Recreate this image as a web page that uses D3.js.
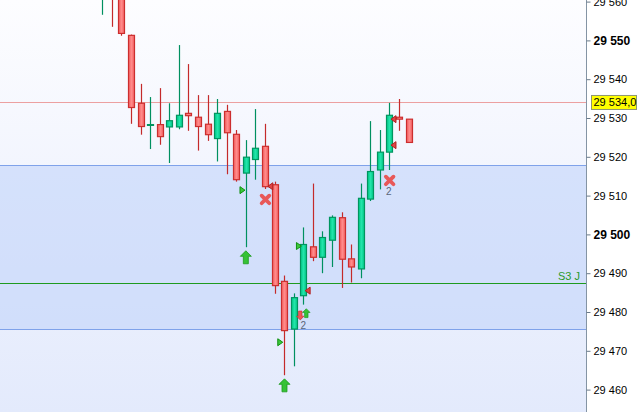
<!DOCTYPE html>
<html><head><meta charset="utf-8">
<script src="https://cdn.jsdelivr.net/npm/d3@7/dist/d3.min.js"></script>
<style>html,body{margin:0;padding:0;background:#fff;overflow:hidden}</style>
</head><body>
<svg id="c" width="637" height="412"></svg>
<script>
// OHLC candles (index order, left to right)
const opens  = [29565,29575,29566,29551.3,29533.8,29528.3,29528.3,29527.7,29527.7,29531.2,29530.2,29528.4,29524.7,29531.7,29525.8,29515.8,29519.3,29522.7,29512.8,29487.9,29475.6,29484.2,29496.8,29494.1,29498.5,29504.3,29493.7,29491.1,29509.1,29516.6,29521.2,29530.2,29529.7];
const highs  = [29578,29578,29568,29551.5,29538.8,29535.4,29537.7,29533.8,29548.8,29543.9,29535.9,29535.9,29534.9,29533.4,29526.9,29524.3,29532.3,29528.5,29513.6,29489.4,29484.8,29501.8,29513.1,29500.8,29504.9,29505.7,29497.4,29513.1,29529.2,29526.9,29533.9,29534.9,29529.7];
const lows   = [29556.6,29553.5,29551.2,29528.5,29525.7,29522.0,29523.1,29518.4,29527.1,29526.7,29521.6,29524.1,29518.8,29515.5,29513.6,29496.7,29514.1,29511.7,29484.7,29463.7,29466.0,29481.9,29493.1,29490.0,29491.6,29486.2,29487.6,29488.7,29508.6,29511.6,29516.6,29526.7,29523.7];
const closes = [29575,29566,29551.8,29532.7,29527.8,29528.3,29525.2,29529.3,29530.7,29530.6,29527.8,29525.7,29531.2,29526.2,29514.1,29519.9,29522.2,29512.3,29486.8,29475.2,29483.7,29497.4,29494.1,29499.2,29504.4,29493.6,29491.6,29509.3,29516.2,29521.2,29530.7,29529.7,29523.7];
const upFlags = [1,0,0,0,0,1,0,1,1,0,0,0,1,0,0,1,1,0,0,0,1,1,0,1,1,0,0,1,1,1,1,0,0];

// Tick labels
const tickValues = [29460,29470,29480,29490,29500,29510,29520,29530,29540,29550,29560];
const majorTicks = [29500,29550];

// Horizontal levels
const lastPrice = 29534.0;
const lastPriceLabel = "29 534,0";
const bandTop = 29517.8, bandBottom = 29475.5;
const s3Level = 29487.6, s3Label = "S3 J";

// Signal markers: [type, candle index, price]
const markerTypes  = ["bigUp","triR","cross","triL","triR","triL","smallDown","smallUp","text2","triR","bigUp","cross","text2","triL","triL"];
const markerIdx    = [15,14.65,17.05,17.56,20.55,21.46,20.69,21.32,21.0,18.6,19.04,30.03,29.94,30.43,30.43];
const markerPrice  = [29494.1,29511.4,29509.0,29512.4,29497.0,29485.5,29479.1,29479.7,29476.5,29472.2,29461.1,29513.9,29511.0,29529.7,29523.0];

const W = 637, H = 412, axisX = 586;
const svg = d3.select("#c");
const y = d3.scaleLinear().domain([29460, 29560]).range([389.6, 1.6]);
const x = d3.scaleLinear().domain([0, 32]).range([102.3, 408.5]);

const defs = svg.append("defs");
const bg = defs.append("linearGradient").attr("id","bg").attr("x1",0).attr("y1",0).attr("x2",0).attr("y2",1);
bg.append("stop").attr("offset","0%").attr("stop-color","#fdfdff");
bg.append("stop").attr("offset","100%").attr("stop-color","#e3eafc");
const rg = defs.append("linearGradient").attr("id","rg").attr("x1",0).attr("y1",0).attr("x2",1).attr("y2",0);
rg.append("stop").attr("offset","0%").attr("stop-color","#f46060");
rg.append("stop").attr("offset","50%").attr("stop-color","#ff8a8a");
rg.append("stop").attr("offset","100%").attr("stop-color","#f46060");
const gg = defs.append("linearGradient").attr("id","gg").attr("x1",0).attr("y1",0).attr("x2",1).attr("y2",0);
gg.append("stop").attr("offset","0%").attr("stop-color","#00c888");
gg.append("stop").attr("offset","50%").attr("stop-color","#22e4aa");
gg.append("stop").attr("offset","100%").attr("stop-color","#00c888");

svg.append("rect").attr("x",0).attr("y",0).attr("width",axisX).attr("height",H).attr("fill","url(#bg)");
svg.append("rect").attr("x",0).attr("y",y(bandTop)).attr("width",axisX).attr("height",y(bandBottom)-y(bandTop)).attr("fill","#c2d4fa").attr("opacity",0.6);

const hline = (v,col) => svg.append("line").attr("x1",0).attr("x2",axisX).attr("y1",Math.round(y(v))+0.5).attr("y2",Math.round(y(v))+0.5).attr("stroke",col).attr("stroke-width",1);
hline(bandTop,"#7fa2ea");
hline(bandBottom,"#7fa2ea");
hline(s3Level,"#1e9a1e");
hline(lastPrice,"#eca0a0");
svg.append("text").attr("x",580).attr("y",y(s3Level)-3).attr("text-anchor","end")
  .attr("font-family","Liberation Sans, Arial, sans-serif").attr("font-size",11).attr("fill","#2a9a2a").text(s3Label);

// candles
const data = opens.map((o,i)=>({i,o,h:highs[i],l:lows[i],c:closes[i],up:upFlags[i]===1}));
const g = svg.append("g");
g.selectAll("line.w").data(data).join("line")
  .attr("x1",d=>Math.round(x(d.i))+0.5).attr("x2",d=>Math.round(x(d.i))+0.5)
  .attr("y1",d=>y(d.h)).attr("y2",d=>y(d.l))
  .attr("stroke",d=>d.up?"#009060":"#c42a2a").attr("stroke-width",1.2);
g.selectAll("rect.b").data(data).join("rect")
  .attr("x",d=>Math.round(x(d.i))-2.5).attr("width",6)
  .attr("y",d=>y(Math.max(d.o,d.c))).attr("height",d=>Math.max(0.8,y(Math.min(d.o,d.c))-y(Math.max(d.o,d.c))))
  .attr("fill",d=>d.up?"url(#gg)":"url(#rg)")
  .attr("stroke",d=>d.up?"#00955f":"#cc2e2e").attr("stroke-width",1.2);

// markers
const mk = svg.append("g");
const arrowPath = "M0,-6.5L5.5,-1L2.5,-1L2.5,6.5L-2.5,6.5L-2.5,-1L-5.5,-1Z";
markerTypes.forEach((t,k)=>{
  const px = x(markerIdx[k]), py = y(markerPrice[k]);
  const tr = `translate(${px},${py})`;
  if (t==="bigUp") mk.append("path").attr("d",arrowPath).attr("transform",tr).attr("fill","#36c236").attr("stroke","#1c9a1c").attr("stroke-width",0.8);
  else if (t==="smallUp") mk.append("path").attr("d",arrowPath).attr("transform",tr+" scale(0.68)").attr("fill","#36c236").attr("stroke","#1c9a1c").attr("stroke-width",1);
  else if (t==="smallDown") mk.append("path").attr("d",arrowPath).attr("transform",tr+" scale(0.68) rotate(180)").attr("fill","#f05656").attr("stroke","#c83030").attr("stroke-width",1);
  else if (t==="triR") mk.append("path").attr("d","M-2.5,-3.5L2.5,0L-2.5,3.5Z").attr("transform",tr).attr("fill","#3cc83c").attr("stroke","#109010").attr("stroke-width",1);
  else if (t==="triL") mk.append("path").attr("d","M2.5,-3.5L-2.5,0L2.5,3.5Z").attr("transform",tr).attr("fill","#e04444").attr("stroke","#b02020").attr("stroke-width",1);
  else if (t==="cross") mk.append("path").attr("d","M-3.8,-3.8L3.8,3.8M3.8,-3.8L-3.8,3.8").attr("transform",tr).attr("stroke","#e85858").attr("stroke-width",3.8).attr("stroke-linecap","round");
  else if (t==="text2") mk.append("text").attr("x",px).attr("y",py).attr("dy","0.36em").attr("text-anchor","middle")
      .attr("font-family","Liberation Sans, Arial, sans-serif").attr("font-size",10).attr("fill","#5a6478").text("2");
});

// right axis
svg.append("rect").attr("x",axisX).attr("y",0).attr("width",W-axisX).attr("height",H).attr("fill","#fff");
const loc = d3.formatLocale({decimal:",",thousands:" ",grouping:[3],currency:["",""]});
const fmt = loc.format(",");
const ax = svg.append("g").attr("transform",`translate(${axisX+0.5},0)`)
  .call(d3.axisRight(y).tickValues(tickValues).tickSize(4).tickPadding(3).tickFormat(fmt));
ax.select(".domain").attr("stroke","#8494a4").attr("d",`M0,0V${H}`);
ax.selectAll(".tick line").attr("stroke","#6a7a8a");
ax.selectAll(".tick text").attr("font-family","Liberation Sans, Arial, sans-serif").attr("fill","#000")
  .attr("font-size",d=>majorTicks.includes(d)?12:11).attr("font-weight",d=>majorTicks.includes(d)?"bold":"normal");

// last price label
const ly = y(lastPrice);
svg.append("rect").attr("x",591.5).attr("y",ly-7).attr("width",45).attr("height",14).attr("fill","#ffff00").attr("stroke","#8e9672").attr("stroke-width",1);
svg.append("text").attr("x",593.5).attr("y",ly).attr("dy","0.36em").attr("font-family","Liberation Sans, Arial, sans-serif")
  .attr("font-size",11).attr("fill","#000").text(lastPriceLabel);
</script>
</body></html>
